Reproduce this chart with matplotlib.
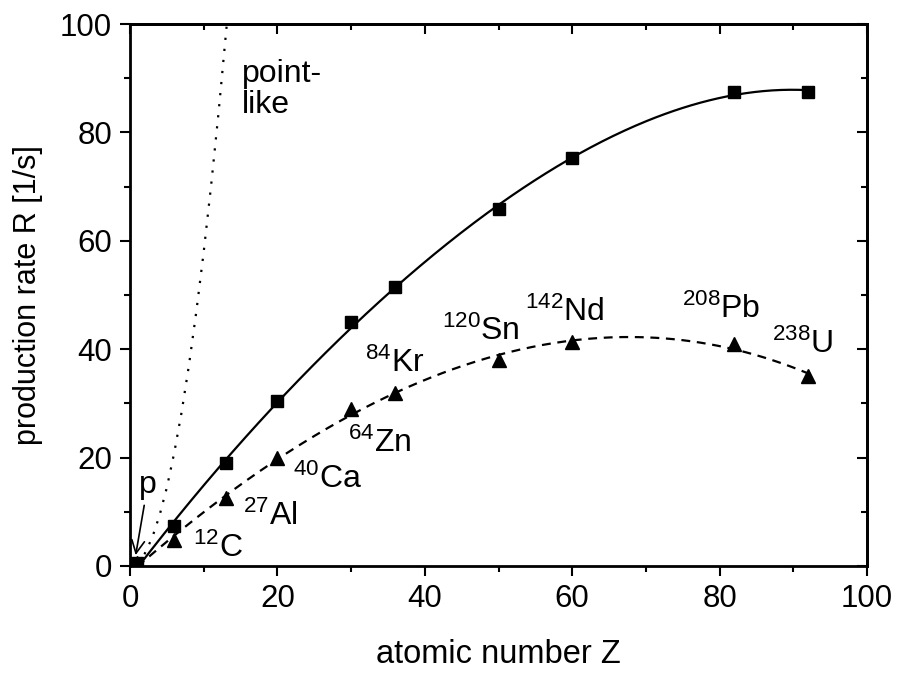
import numpy as np
import matplotlib
matplotlib.use("Agg")
import matplotlib.pyplot as plt

plt.rcParams['font.family'] = ['Liberation Sans', 'DejaVu Sans']
plt.rcParams['mathtext.fontset'] = 'custom'
plt.rcParams['mathtext.rm'] = 'Liberation Sans'
plt.rcParams['mathtext.it'] = 'Liberation Sans'

# squares (solid curve)
z_sq = [1, 6, 13, 20, 30, 36, 50, 60, 82, 92]
r_sq = [0.5, 7.3, 19.0, 30.5, 45.0, 51.5, 65.8, 75.2, 87.5, 87.5]

# triangles (dashed curve)
z_tri = [1, 6, 13, 20, 30, 36, 50, 60, 82, 92]
r_tri = [0.5, 4.8, 12.5, 20.0, 29.0, 32.0, 38.0, 41.3, 41.0, 35.0]

# point-like estimate (dotted)
z_pt = [1, 2, 3, 4, 5, 6, 7, 8, 9, 10, 11, 12, 13.1]
r_pt = [0.58, 2.3, 5.2, 9.3, 14.5, 20.9, 28.4, 37.1, 47.0, 58.0, 70.2, 83.5, 99.5]

labels = [r'$^{12}$C', r'$^{27}$Al', r'$^{40}$Ca', r'$^{64}$Zn', r'$^{84}$Kr',
          r'$^{120}$Sn', r'$^{142}$Nd', r'$^{208}$Pb', r'$^{238}$U']
label_z = [8.5, 15.3, 22.1, 29.6, 31.9, 42.3, 53.6, 74.9, 87.1]
label_r = [1.7, 7.6, 14.4, 21.0, 35.8, 41.7, 45.2, 45.8, 39.3]

fig = plt.figure(figsize=(8.98, 6.73), dpi=100)
ax = fig.add_axes([0.1448, 0.159, 0.8207, 0.8053])

# smooth fits through the measured points
zz = np.linspace(1, 92, 300)
fit_sq = np.polyval(np.polyfit(z_sq, r_sq, 4), zz)
fit_tri = np.polyval(np.polyfit(z_tri, r_tri, 3), zz)

ax.plot(zz, fit_sq, 'k-', lw=1.6)
ax.plot(zz, fit_tri, 'k', ls=(0, (4, 3)), lw=1.6)
ax.plot(z_pt, r_pt, 'k', ls=(0, (1, 4)), lw=1.6)
ax.plot(z_sq, r_sq, 'ks', ms=9, ls='none')
ax.plot(z_tri, r_tri, 'k^', ms=10, ls='none')

for lab, x, y in zip(labels, label_z, label_r):
    ax.text(x, y, lab, fontsize=23, ha='left', va='baseline')

ax.text(15.2, 93.5, 'point-\nlike', fontsize=23, ha='left', va='top', linespacing=1.05)
ax.annotate('p', xy=(0.7, 1.5), xytext=(1.2, 13.5), fontsize=23,
            arrowprops=dict(arrowstyle='->', color='k', lw=1.2))

ax.set_xlim(0, 100)
ax.set_ylim(0, 100)
ax.set_xticks([0, 20, 40, 60, 80, 100])
ax.set_yticks([0, 20, 40, 60, 80, 100])
ax.set_xticks(np.arange(10, 100, 20), minor=True)
ax.set_yticks(np.arange(10, 100, 20), minor=True)
ax.tick_params(which='major', direction='out', length=7, width=1.5, labelsize=22.5, pad=6)
ax.tick_params(which='minor', direction='out', length=4.5, width=1.5)
for s in ax.spines.values():
    s.set_linewidth(2)

top = ax.secondary_xaxis('top')
top.set_xticks([0, 20, 40, 60, 80, 100])
top.set_xticks(np.arange(10, 100, 20), minor=True)
top.tick_params(which='major', direction='in', length=7, width=1.5, labeltop=False)
top.tick_params(which='minor', direction='in', length=4.5, width=1.5)
top.spines['top'].set_linewidth(2)
right = ax.secondary_yaxis('right')
right.set_yticks([0, 20, 40, 60, 80, 100])
right.set_yticks(np.arange(10, 100, 20), minor=True)
right.tick_params(which='major', direction='in', length=7, width=1.5, labelright=False)
right.tick_params(which='minor', direction='in', length=4.5, width=1.5)
right.spines['right'].set_linewidth(2)

ax.set_xlabel('atomic number Z', fontsize=23.5, labelpad=18)
ax.set_ylabel('production rate R [1/s]', fontsize=22, labelpad=12)

fig.savefig('out.png', dpi=100)
